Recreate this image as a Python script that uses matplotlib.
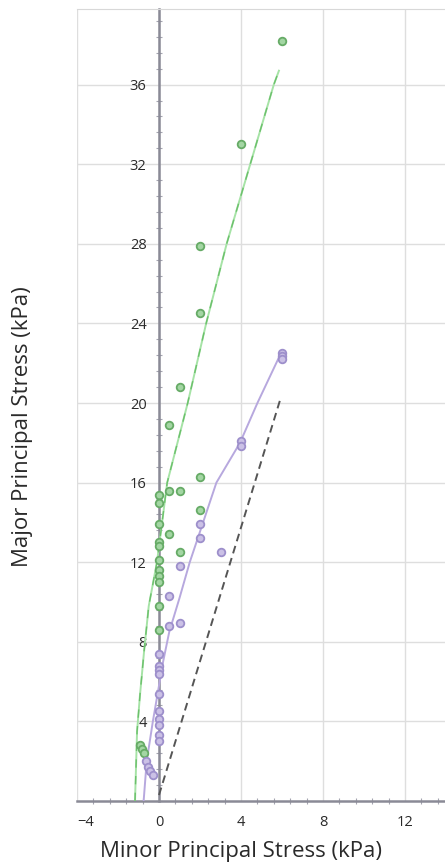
import matplotlib.pyplot as plt
from matplotlib.ticker import MultipleLocator
import numpy as np

plt.rcParams['font.family'] = ['Open Sans', 'DejaVu Sans']

# measured points (minor, major) in kPa
green_x = [6, 4, 2, 2, 1, 0.5, 2, 0.5, 1, 0, 0, 2, 0, 0.5, 0, 0, 1, 0, 0, 0, 0, 0, 0,
           -0.93, -0.85, -0.73]
green_y = [38.2, 33.0, 27.9, 24.5, 20.8, 18.9, 16.3, 15.6, 15.6, 15.4, 15.0, 14.6, 13.9, 13.4,
           13.0, 12.8, 12.5, 12.1, 11.6, 11.3, 11.0, 9.8, 8.6,
           2.8, 2.6, 2.4]
purple_x = [6, 6, 6, 4, 4, 2, 2, 3, 1, 0.5, 0.5, 1.0, 0, 0, 0, 0, 0, 0, 0, 0, 0, 0,
            -0.65, -0.55, -0.45, -0.3]
purple_y = [22.5, 22.35, 22.2, 18.1, 17.85, 13.9, 13.2, 12.5, 11.8, 10.3, 8.8, 8.95, 7.4, 6.8,
            6.6, 6.4, 5.4, 4.5, 4.1, 3.8, 3.3, 3.0,
            2.0, 1.7, 1.5, 1.3]

# fitted envelopes
green_fit_x = [-1.17, -1.07, -0.93, -0.73, -0.5, -0.1, 0.4, 1.4, 2.3, 3.3, 4.45, 5.6, 5.85]
green_fit_y = [0, 3.5, 5.3, 7.5, 9.8, 12, 16, 20, 24, 28, 32, 36, 36.7]
purple_fit_x = [-0.75, -0.6, -0.3, 0.2, 0.5, 1.0, 1.5, 2.8, 3.95, 4.8, 5.9]
purple_fit_y = [0, 2.0, 4.0, 7.0, 8.5, 10.2, 12, 16, 18, 20, 22.4]
ref_x = [0, 5.95]
ref_y = [0.3, 20.3]

fig = plt.figure(figsize=(4.45, 8.65), dpi=100)
ax = fig.add_axes([77/445, 1 - 801/865, 368/445, 792/865])

ax.set_xlim(-4, 13.95)
ax.set_ylim(0, 39.8)

ax.plot(green_fit_x, green_fit_y, color='#a6e3a6', lw=1.4, zorder=3)
ax.plot(green_fit_x, green_fit_y, color='#6cc06c', lw=1.0, ls=(0, (6, 6)), zorder=3)
ax.plot(purple_fit_x, purple_fit_y, color='#b7a8de', lw=1.4, zorder=3)
ax.plot(ref_x, ref_y, color='#555555', lw=1.4, ls=(0, (4, 2.5)), zorder=3)

ax.scatter(green_x, green_y, s=30, facecolor='#a3d6a3', edgecolor='#66ab66', lw=1.3, zorder=4)
ax.scatter(purple_x, purple_y, s=30, facecolor='#cbc1e6', edgecolor='#9d8fcb', lw=1.3, zorder=4)

ax.set_xticks([-4, 0, 4, 8, 12])
ax.set_yticks([4, 8, 12, 16, 20, 24, 28, 32, 36])
ax.xaxis.set_minor_locator(MultipleLocator(0.8))
ax.yaxis.set_minor_locator(MultipleLocator(0.8))
ax.grid(True, which='major', color='#dedede', lw=1.0, zorder=0)
ax.axvline(-4, color='#cfcfcf', lw=1.2, zorder=1)

ax.spines['left'].set_position(('data', 0))
ax.spines['right'].set_visible(False)
ax.spines['top'].set_color('#d8d8d8')
for s in ['left', 'bottom']:
    ax.spines[s].set_color('#8a8a96')
    ax.spines[s].set_linewidth(1.8)
    ax.spines[s].set_zorder(2)

ax.tick_params(which='major', length=0, labelsize=10.5, colors='#2a2a2a', pad=9)
ax.tick_params(which='minor', direction='inout', length=4, width=0.8, color='#a4a4b0')
ax.tick_params(axis='x', which='major', pad=10)
ax.get_xticklabels()[0].set_horizontalalignment('left')

fig.text(23/445, 1 - 427/865, 'Major Principal Stress (kPa)', rotation=90,
         ha='center', va='center', fontsize=16, color='#2a2a2a')
fig.text(241/445, 1 - 851/865, 'Minor Principal Stress (kPa)',
         ha='center', va='center', fontsize=16, color='#2a2a2a')

fig.savefig('out.png', dpi=100)
